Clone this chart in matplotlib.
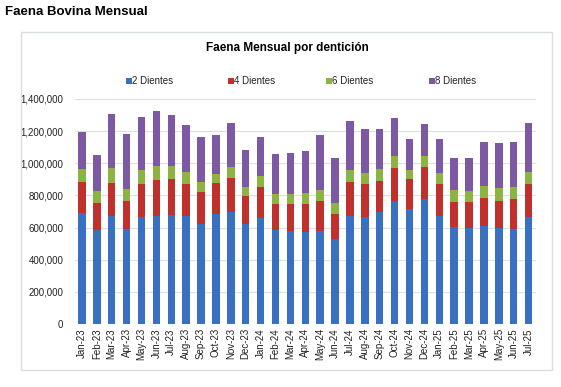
import matplotlib
matplotlib.use("Agg")
import matplotlib.pyplot as plt
import numpy as np
from matplotlib.patches import Rectangle
from matplotlib.ticker import FuncFormatter

months = ["Jan-23","Feb-23","Mar-23","Apr-23","May-23","Jun-23","Jul-23","Aug-23","Sep-23","Oct-23",
          "Nov-23","Dec-23","Jan-24","Feb-24","Mar-24","Apr-24","May-24","Jun-24","Jul-24","Aug-24",
          "Sep-24","Oct-24","Nov-24","Dec-24","Jan-25","Feb-25","Mar-25","Apr-25","May-25","Jun-25","Jul-25"]

# cumulative tops (thousands)
top_2 = [691,583,675,592,667,671,681,671,625,683,698,621,660,583,581,573,579,527,673,665,698,764,717,777,675,604,598,608,598,592,667]
top_4 = [881,754,879,767,871,896,904,871,819,875,906,796,852,748,748,748,767,683,881,869,892,971,900,979,871,762,762,785,764,777,871]
top_6 = [964,827,971,842,958,983,983,946,883,935,977,854,921,808,808,814,833,752,958,939,962,1046,958,1048,942,835,827,858,848,854,948]
top_8 = [1196,1052,1304,1185,1291,1325,1298,1241,1164,1173,1248,1083,1164,1060,1067,1077,1177,1033,1264,1214,1214,1283,1152,1246,1152,1031,1031,1133,1127,1131,1248]

d2 = np.array(top_2) * 1000
d4 = (np.array(top_4) - np.array(top_2)) * 1000
d6 = (np.array(top_6) - np.array(top_4)) * 1000
d8 = (np.array(top_8) - np.array(top_6)) * 1000

series = ["2 Dientes", "4 Dientes", "6 Dientes", "8 Dientes"]
colors = ["#3A70C2", "#C0312D", "#8DB441", "#7D58A3"]

plt.rcParams['font.family'] = ['Liberation Sans', 'DejaVu Sans']

fig = plt.figure(figsize=(5.61, 3.87), dpi=100)
fig.patch.set_facecolor("white")

fig.text(5/561, 1 - 12/387, "Faena Bovina Mensual", fontsize=9.5, fontweight="bold", va="center", ha="left")

# chart frame
fig.patches.append(Rectangle((21/561, 1 - 370/387), (552-21)/561, (370-32)/387,
                             transform=fig.transFigure, fill=False, edgecolor="#D9DEE3", linewidth=1))
fig.text(287/561, 1 - 48/387, "Faena Mensual por dentición", fontsize=8.5, fontweight="bold", va="center", ha="center")

ax = fig.add_axes([74.5/561, 1 - 324/387, (536-74.5)/561, (324-99)/387])
x = np.arange(len(months))
w = 0.5
bottom = np.zeros(len(months))
for vals, c, lab in zip([d2, d4, d6, d8], colors, series):
    ax.bar(x, vals, w, bottom=bottom, color=c, label=lab, zorder=3, linewidth=0)
    bottom = bottom + vals

ax.set_xlim(-0.5, len(months) - 0.5)
ax.set_ylim(0, 1400000)
ax.set_yticks(np.arange(0, 1400001, 200000))
ax.yaxis.set_major_formatter(FuncFormatter(lambda v, p: f"{int(v):,}"))
ax.set_xticks(x)
ax.set_xticklabels(months, rotation=90, fontsize=7, color="#222222")
ax.tick_params(axis="y", labelsize=7, length=0, pad=8, labelcolor="#222222")
ax.tick_params(axis="x", length=0, pad=3)
ax.grid(axis="y", color="#DCDFE3", linewidth=0.8, zorder=0)
for s in ax.spines.values():
    s.set_visible(False)

positions = [129, 231, 329, 432]
for hx, lab, c in zip(positions, series, colors):
    fig.patches.append(Rectangle(((hx - 3) / 561, 1 - 84/387), 6/561, 6/387,
                                 transform=fig.transFigure, facecolor=c, edgecolor="none"))
    fig.text((hx + 3) / 561, 1 - 81/387, lab, fontsize=7, va="center", ha="left", color="#222222")

fig.savefig("out.png", dpi=100)
